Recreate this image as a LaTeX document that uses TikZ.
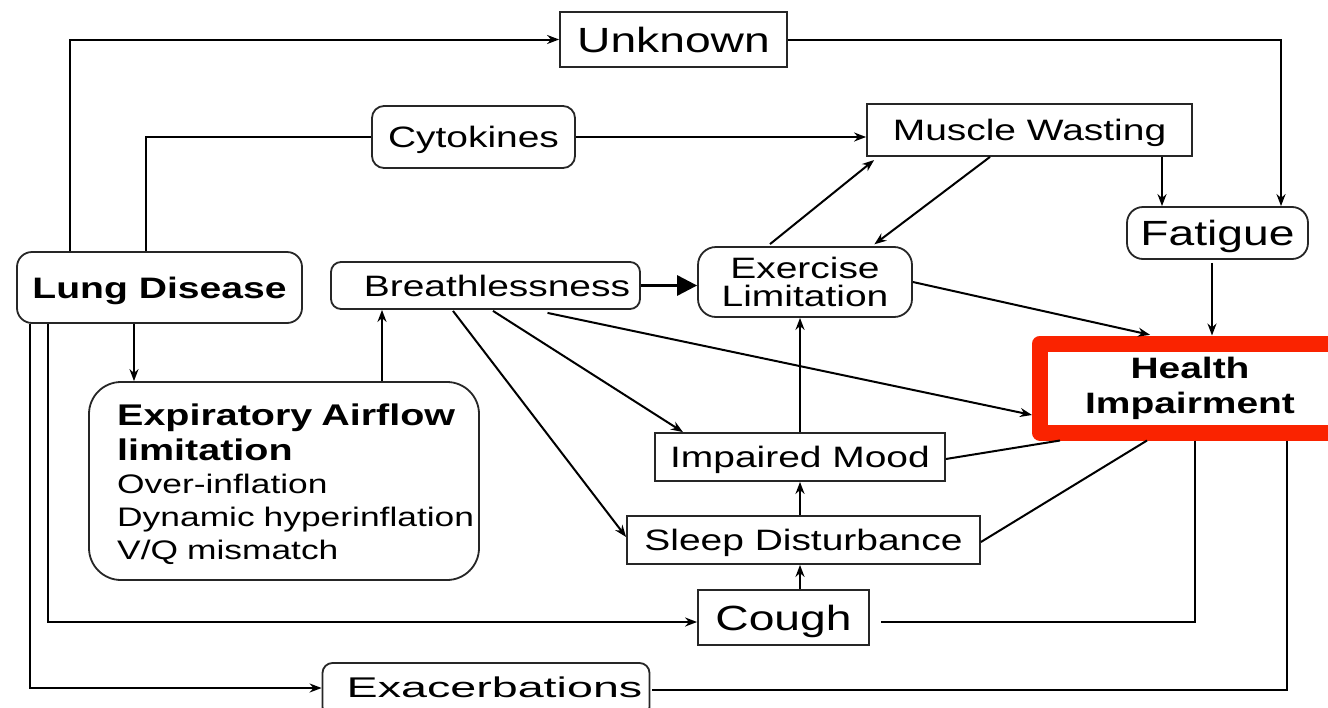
\documentclass[tikz,border=0pt]{standalone}
\usepackage{fontspec}
\usepackage{graphicx}
\setmainfont{Liberation Sans}[FakeStretch=1.32]
\usetikzlibrary{arrows.meta,calc}
\newcommand{\myfs}[2]{\fontsize{#1pt}{#2pt}\selectfont}
\definecolor{hired}{RGB}{250,35,0}
\begin{document}
\begin{tikzpicture}[x=1pt,y=-1pt,
  bx/.style={draw=black!85, line width=1.8pt, inner sep=0pt, font=\myfs{29.5}{29.5}},
  one/.style={text height=21pt, text depth=0pt},
  big/.style={font=\myfs{35}{35}, text height=25pt, text depth=0pt},
  ln/.style={line width=2pt, draw=black},
  arr/.style={ln, -{Stealth[length=12pt,width=9pt]}},
  bigarr/.style={line width=3pt, draw=black, -{Triangle[length=20pt,width=20pt]}}]
\useasboundingbox (0,0) rectangle (1328,707);
\clip (0,0) rectangle (1328,707);
\fill[white] (0,0) rectangle (1328,707);

% helper coordinates
\coordinate (xa) at (70,0);
\coordinate (xb) at (146,0);
\coordinate (xc) at (134,0);
\coordinate (xd) at (48,0);
\coordinate (xe) at (30,0);
\coordinate (xf) at (1281,0);
\coordinate (xg) at (1162,0);
\coordinate (xh) at (1212,0);
\coordinate (xi) at (382,0);
\coordinate (xj) at (800,0);
\coordinate (xk) at (1195,0);
\coordinate (xl) at (1287,0);
\coordinate (yb) at (0,622);
\coordinate (yc) at (0,688);

% nodes
\node[bx,big,minimum width=227pt,minimum height=55pt] (unk) at (673.5,39.5) {Unknown};
\node[bx,one,rounded corners=12pt,minimum width=203pt,minimum height=62pt] (cyt) at (473.5,137) {Cytokines};
\node[bx,one,minimum width=325pt,minimum height=52pt] (mw) at (1029.5,130) {Muscle Wasting};
\node[bx,big,rounded corners=16pt,minimum width=181pt,minimum height=52pt] (fat) at (1217.5,233) {Fatigue};
\node[bx,one,rounded corners=15pt,minimum width=285pt,minimum height=71pt,font=\myfs{29.6}{29.6}\bfseries] (lung) at (159.5,287.5) {Lung Disease};
\node[bx,one,rounded corners=10pt,minimum width=309pt,minimum height=47pt] (br) at (485.5,285.5) {\hspace*{23pt}Breathlessness};
\node[bx,rounded corners=18pt,minimum width=214pt,minimum height=70pt,align=center,font=\myfs{29.5}{28}] (ex) at (805,282) {Exercise\\Limitation};
\node[draw=hired, line width=16pt, line join=round, inner sep=0pt, minimum width=300pt, minimum height=89pt, align=center, font=\myfs{29.5}{35}\bfseries] (health) at (1190,388) {Health\\Impairment};
\node[bx,rounded corners=32pt,minimum width=390pt,minimum height=198pt] (exp) at (284,481) {};
\node[anchor=north west,inner sep=0pt,text width=370pt,align=left,font=\myfs{26.8}{33}] (expt) at (117,404)
  {{\bfseries\myfs{29.9}{35}Expiratory Airflow\\limitation\par}Over-inflation\\Dynamic hyperinflation\\V/Q mismatch};
\node[bx,one,minimum width=290pt,minimum height=48pt] (mood) at (800,457) {Impaired Mood};
\node[bx,one,minimum width=353pt,minimum height=48pt] (sleep) at (803.5,540) {Sleep Disturbance};
\node[bx,big,minimum width=171pt,minimum height=55pt] (cough) at (783.5,617.5) {Cough};
\node[bx,rounded corners=10pt,minimum width=327pt,minimum height=54pt,text height=20pt,text depth=6pt,font=\myfs{28.5}{28.5}] (exac) at (486,690) {\hspace*{17pt}\scalebox{1.24}[1]{Exacerbations}};

% connectors
\draw[arr] (lung.north -| xa) |- (unk.west);
\draw[ln] (lung.north -| xb) |- (cyt.west);
\draw[arr] (cyt.east) -- (cyt.east -| mw.west);
\draw[arr] (unk.east) -| (fat.north -| xf);
\draw[arr] (mw.south -| xg) -- (fat.north -| xg);
\draw[arr, shorten >=5pt] ($(ex.north)+(-35,-2)$) -- ($(mw.south)+(-151.5,0)$);
\draw[arr, shorten >=3pt] ($(mw.south)+(-39.5,0)$) -- ($(ex.north)+(67,0)$);
\draw[arr] ($(fat.south -| xh)+(0,3)$) -- (health.north -| xh);
\draw[arr, shorten >=3pt] (ex.east) -- ($(health.north)+(-37,0)$);
\draw[bigarr] (br.east) -- (br.east -| ex.west);
\draw[arr] (exp.north -| xi) -- (br.south -| xi);
\draw[arr] (lung.south -| xc) -- (exp.north -| xc);
\draw[arr] (lung.south -| xd) |- (cough.west |- yb);
\draw[arr] (lung.south -| xe) |- (exac.west |- yc);
\draw[arr] ($(br.south)+(62,3)$) -- ($(health.west)+(0,27)$);
\draw[arr] ($(br.south)+(7.5,1)$) -- ($(mood.north)+(-117,0)$);
\draw[arr] ($(br.south)+(-32.5,1)$) -- ($(sleep.west)+(0,-3)$);
\draw[arr] (mood.north -| xj) -- (ex.south -| xj);
\draw[arr] (sleep.north -| xj) -- (mood.south -| xj);
\draw[arr] (cough.north -| xj) -- (sleep.south -| xj);
\draw[ln] ($(health.south)+(-130,0)$) -- ($(mood.east)+(0,2)$);
\draw[ln] ($(health.south)+(-43,0)$) -- ($(sleep.east)+(0,2)$);
\draw[ln] (health.south -| xk) |- ($(cough.east)+(11,4.5)$);
\draw[ln] (health.south -| xl) |- ($(exac.east)+(2,0)$);
\end{tikzpicture}
\end{document}
